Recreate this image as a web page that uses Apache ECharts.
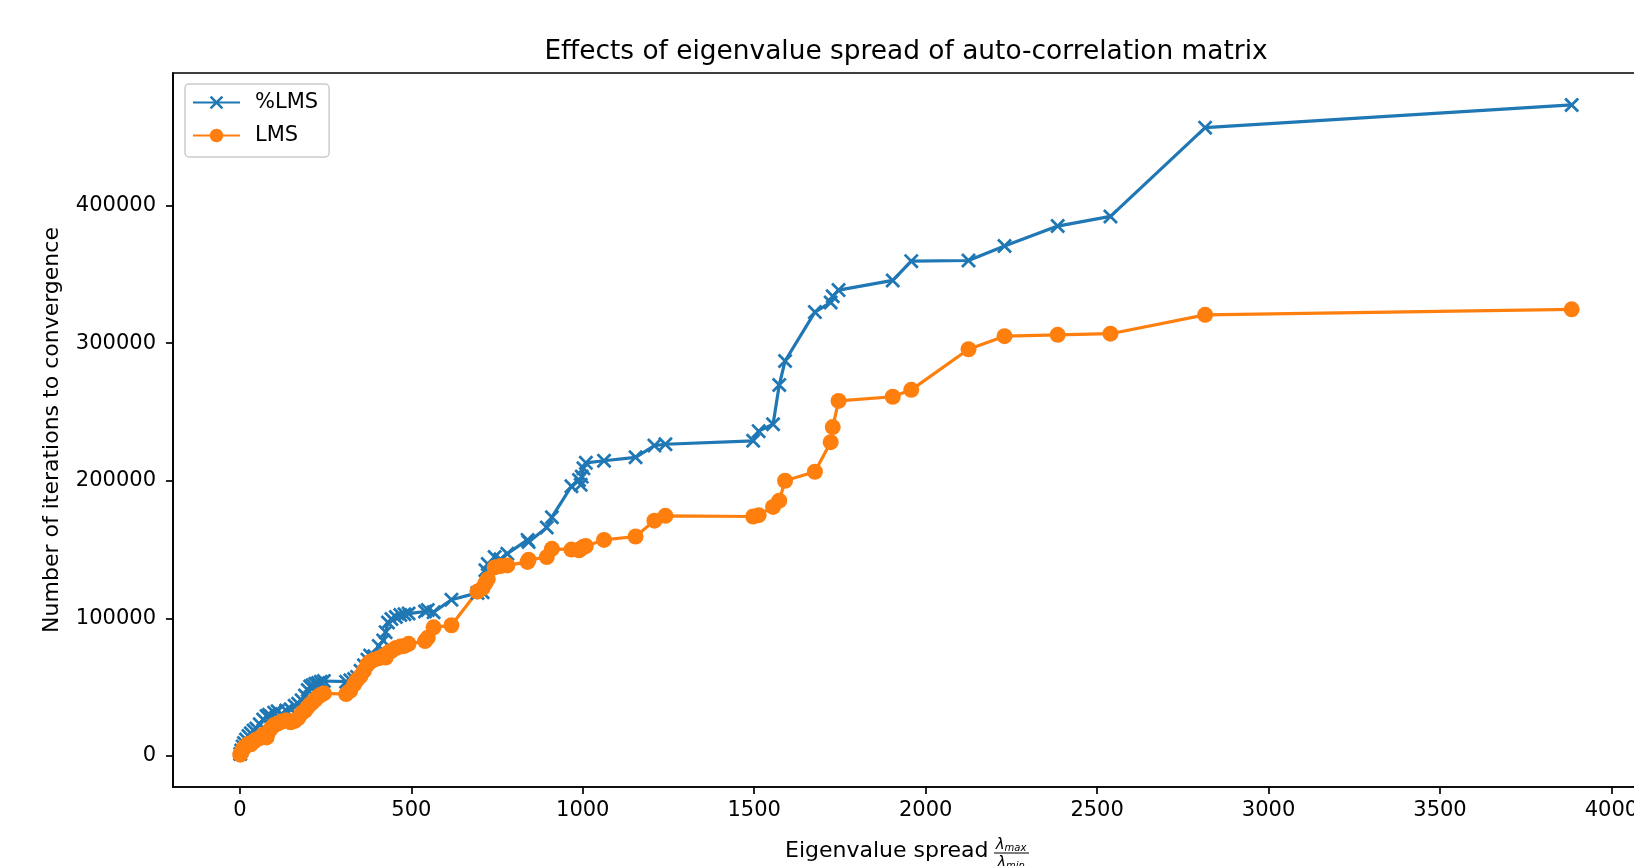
<!DOCTYPE html>
<html>
<head>
<meta charset="utf-8">
<script src="https://cdn.jsdelivr.net/npm/echarts@6/dist/echarts.min.js"></script>
<style>
  html, body { margin: 0; padding: 0; background: #fff; overflow: hidden; }
  /* plot box runs past the right edge of the picture, as in the original */
  #chart { width: 1660px; height: 866px; }
</style>
</head>
<body>
<div id="chart"></div>
<script>
// eigenvalue spread (shared by both runs)
const spread = [
  1, 4, 8, 12, 18, 25, 32, 40, 48, 58, 68, 78, 85, 92, 100, 110, 122, 135, 148, 160,
  170, 180, 190, 198, 205, 212, 220, 228, 236, 245, 310, 322, 333, 342, 352, 362, 372, 380, 392, 405,
  418, 425, 432, 442, 455, 468, 480, 492, 540, 548, 565, 617, 693, 708, 716, 723, 743, 760, 780, 839,
  842, 895, 910, 967, 989, 994, 997, 1002, 1009, 1062, 1154, 1209, 1241, 1497, 1513, 1555, 1573, 1590, 1677, 1723,
  1729, 1746, 1904, 1958, 2125, 2230, 2385, 2539, 2815, 3884
];

// %LMS iterations
const pctLms = [
  1500, 4000, 7000, 9500, 12000, 14500, 16500, 18500, 20000, 23000, 26500, 29000, 30000, 28500, 31500, 32500, 30500, 33000, 34000, 36500,
  38000, 40500, 44000, 48000, 50500, 51500, 52500, 53000, 54000, 54500, 54000, 55000, 56000, 57500, 62000, 66000, 70000, 73000, 72500, 80000,
  84000, 90000, 97000, 99500, 101000, 102500, 103000, 103500, 105000, 106000, 104500, 113500, 118500, 119000, 135000, 139500, 144500, 143000, 147000, 157000,
  155500, 166000, 173500, 196000, 200500, 197000, 203000, 209000, 213000, 214500, 217000, 225500, 226500, 229000, 236000, 241000, 269500, 287000, 322500, 329500,
  334000, 338500, 345500, 359500, 360000, 370500, 385000, 392000, 456500, 473000
];

// LMS iterations
const lms = [
  1000, 2500, 4500, 6000, 7500, 9000, 8500, 10500, 12000, 13000, 15500, 13500, 18000, 20500, 22500, 23500, 25000, 26000, 24500, 25500,
  27500, 31000, 33000, 35500, 37500, 39000, 41000, 43000, 44500, 45500, 45000, 47500, 52000, 55500, 58000, 62000, 66500, 68500, 70000, 71000,
  72500, 71500, 75000, 76500, 78500, 79500, 80000, 81500, 83500, 86000, 93500, 95000, 119500, 122000, 125500, 128500, 137000, 138000, 138500, 141000,
  142500, 144500, 150500, 150000, 149500, 150500, 151000, 152000, 152500, 157000, 159500, 171000, 174500, 174000, 175000, 181000, 185500, 200000, 206500, 228000,
  239000, 258000, 261000, 266000, 295500, 305000, 306000, 306800, 320500, 324500
];

const xTicks = [0, 500, 1000, 1500, 2000, 2500, 3000, 3500, 4000];
const yTicks = [0, 100000, 200000, 300000, 400000];

const FONT = 'DejaVu Sans';
const blue = '#1f77b4';
const orange = '#ff7f0e';
const crossPath = 'path://M0,13L13,0L100,87L87,100Z M87,0L100,13L13,100L0,87Z';

let chart = echarts.init(document.getElementById('chart'), null, { renderer: 'canvas' });

let option = {
  animation: false,
  backgroundColor: '#fff',
  textStyle: { fontFamily: FONT },
  title: {
    text: 'Effects of eigenvalue spread of auto-correlation matrix',
    left: 901,
    top: 34,
    textAlign: 'center',
    textStyle: { fontFamily: FONT, fontSize: 26.4, fontWeight: 'normal', color: '#000' }
  },
  legend: {
    orient: 'vertical',
    left: 185,
    top: 84,
    padding: [8, 11, 11, 7],
    itemGap: 12,
    itemWidth: 47,
    itemHeight: 17,
    backgroundColor: 'rgba(255,255,255,0.8)',
    borderColor: '#cccccc',
    borderWidth: 1.5,
    borderRadius: 4,
    textStyle: { fontFamily: FONT, fontSize: 21, color: '#000', padding: [0, 0, 0, 10], lineHeight: 21 },
    data: ['%LMS', 'LMS']
  },
  grid: {
    left: 173,
    top: 73,
    width: 1470,
    height: 714,
    show: true,
    borderColor: '#000',
    borderWidth: 1.7,
    backgroundColor: 'transparent'
  },
  xAxis: {
    type: 'value',
    min: -195,
    max: 4092,
    splitLine: { show: false },
    axisLine: { show: true, onZero: false, lineStyle: { color: '#000', width: 1.7 } },
    axisTick: { show: true, customValues: xTicks, length: 7, lineStyle: { color: '#000', width: 1.7 } },
    axisLabel: {
      customValues: xTicks,
      margin: 13,
      fontFamily: FONT,
      fontSize: 21,
      color: '#000',
      formatter: v => String(v)
    }
  },
  yAxis: {
    type: 'value',
    min: -22500,
    max: 496200,
    name: 'Number of iterations to convergence',
    nameLocation: 'middle',
    nameRotate: 90,
    nameGap: 110,
    nameTextStyle: { fontFamily: FONT, fontSize: 22, color: '#000' },
    splitLine: { show: false },
    axisLine: { show: true, onZero: false, lineStyle: { color: '#000', width: 1.7 } },
    axisTick: { show: true, customValues: yTicks, length: 7, lineStyle: { color: '#000', width: 1.7 } },
    axisLabel: {
      customValues: yTicks,
      margin: 17,
      fontFamily: FONT,
      fontSize: 21,
      color: '#000',
      formatter: v => String(v)
    }
  },
  series: [
    {
      name: '%LMS',
      type: 'line',
      data: spread.map((x, i) => [x, pctLms[i]]),
      symbol: crossPath,
      symbolSize: 15,
      symbolKeepAspect: true,
      showSymbol: true,
      lineStyle: { color: blue, width: 3.2 },
      itemStyle: { color: blue, borderWidth: 0 },
      emphasis: { disabled: true }
    },
    {
      name: 'LMS',
      type: 'line',
      data: spread.map((x, i) => [x, lms[i]]),
      symbol: 'circle',
      symbolSize: 16,
      showSymbol: true,
      lineStyle: { color: orange, width: 3.2 },
      itemStyle: { color: orange, borderWidth: 0 },
      emphasis: { disabled: true }
    }
  ],
  graphic: [
    {
      type: 'text',
      left: 785,
      top: 840,
      style: { text: 'Eigenvalue spread', font: '22px "DejaVu Sans"', fill: '#000' }
    },
    {
      type: 'text',
      x: 1011,
      y: 845,
      style: {
        text: '{a|λ}{b|max}',
        align: 'center',
        verticalAlign: 'middle',
        rich: {
          a: { fontFamily: FONT, fontSize: 15, fontStyle: 'italic', color: '#000' },
          b: { fontFamily: FONT, fontSize: 10, fontStyle: 'italic', color: '#000', padding: [6, 0, 0, 0] }
        }
      }
    },
    {
      type: 'line',
      shape: { x1: 994, y1: 853, x2: 1029, y2: 853 },
      style: { stroke: '#000', lineWidth: 1.2 }
    },
    {
      type: 'text',
      x: 1011,
      y: 863,
      style: {
        text: '{a|λ}{b|min}',
        align: 'center',
        verticalAlign: 'middle',
        rich: {
          a: { fontFamily: FONT, fontSize: 15, fontStyle: 'italic', color: '#000' },
          b: { fontFamily: FONT, fontSize: 10, fontStyle: 'italic', color: '#000', padding: [6, 0, 0, 0] }
        }
      }
    }
  ]
};

chart.setOption(option);
</script>
</body>
</html>
